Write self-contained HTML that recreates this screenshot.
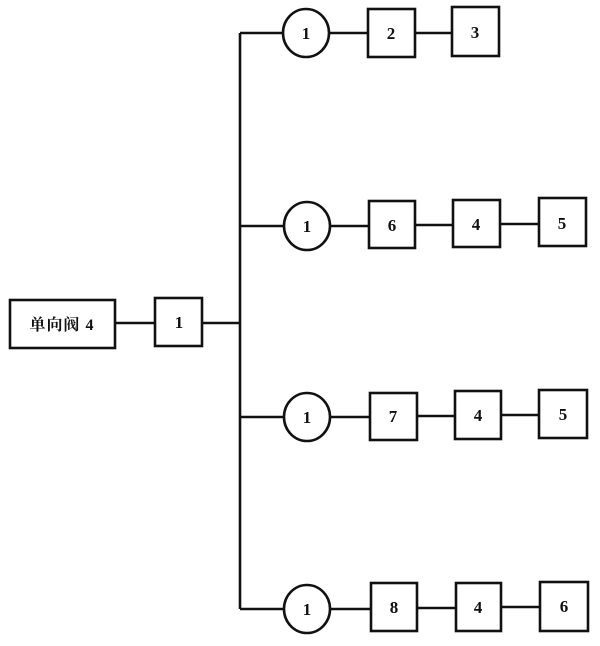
<!DOCTYPE html>
<html><head><meta charset="utf-8"><style>
html,body{margin:0;padding:0;background:#fff;width:600px;height:646px;overflow:hidden}
svg text{font-family:"Liberation Serif","Noto Serif CJK SC",serif;font-size:17px;fill:#111;font-weight:bold}
</style></head><body>
<svg width="600" height="646" viewBox="0 0 600 646" xmlns="http://www.w3.org/2000/svg">
<g stroke="#111" stroke-width="2.6" fill="none">
<line x1="240" y1="33" x2="240" y2="609"/>
<line x1="115" y1="323" x2="155" y2="323"/>
<line x1="202" y1="323" x2="240" y2="323"/>
<line x1="240" y1="33" x2="283" y2="33"/>
<ellipse cx="306" cy="33" rx="23" ry="24"/>
<line x1="329" y1="33" x2="368" y2="33"/>
<rect x="368" y="9" width="47" height="48"/>
<line x1="415" y1="33" x2="452" y2="33"/>
<rect x="452" y="7" width="47" height="49"/>
<line x1="240" y1="226" x2="284" y2="226"/>
<ellipse cx="307" cy="226" rx="23" ry="24"/>
<line x1="330" y1="226" x2="369" y2="226"/>
<rect x="369" y="201" width="46" height="47"/>
<line x1="415" y1="225" x2="453" y2="225"/>
<rect x="453" y="200" width="47" height="47"/>
<line x1="500" y1="224" x2="539" y2="224"/>
<rect x="539" y="198" width="47" height="48"/>
<line x1="240" y1="417" x2="284" y2="417"/>
<ellipse cx="307" cy="417" rx="23" ry="24"/>
<line x1="330" y1="417" x2="370" y2="417"/>
<rect x="370" y="393" width="47" height="47"/>
<line x1="417" y1="416" x2="455" y2="416"/>
<rect x="455" y="391" width="46" height="48"/>
<line x1="501" y1="415" x2="539" y2="415"/>
<rect x="539" y="390" width="48" height="48"/>
<line x1="240" y1="609" x2="284" y2="609"/>
<ellipse cx="307" cy="609" rx="23" ry="24"/>
<line x1="330" y1="609" x2="371" y2="609"/>
<rect x="371" y="583" width="46" height="48"/>
<line x1="417" y1="608" x2="456" y2="608"/>
<rect x="456" y="583" width="45" height="48"/>
<line x1="501" y1="607" x2="540" y2="607"/>
<rect x="540" y="582" width="48" height="49"/>
<rect x="10" y="300" width="105" height="48"/>
<rect x="155" y="298" width="47" height="48"/>
</g>
<g text-anchor="middle">
<text x="62" y="330" style="font-size:16px;letter-spacing:1px">单向阀 4</text>
<text x="179" y="328">1</text>
<text x="306" y="39">1</text><text x="391" y="39">2</text><text x="475" y="38">3</text>
<text x="307" y="232">1</text><text x="392" y="231">6</text><text x="476" y="230">4</text><text x="562" y="229">5</text>
<text x="307" y="423">1</text><text x="393" y="422">7</text><text x="478" y="421">4</text><text x="563" y="420">5</text>
<text x="307" y="615">1</text><text x="394" y="613">8</text><text x="478" y="613">4</text><text x="564" y="612">6</text>
</g>
</svg>
</body></html>
